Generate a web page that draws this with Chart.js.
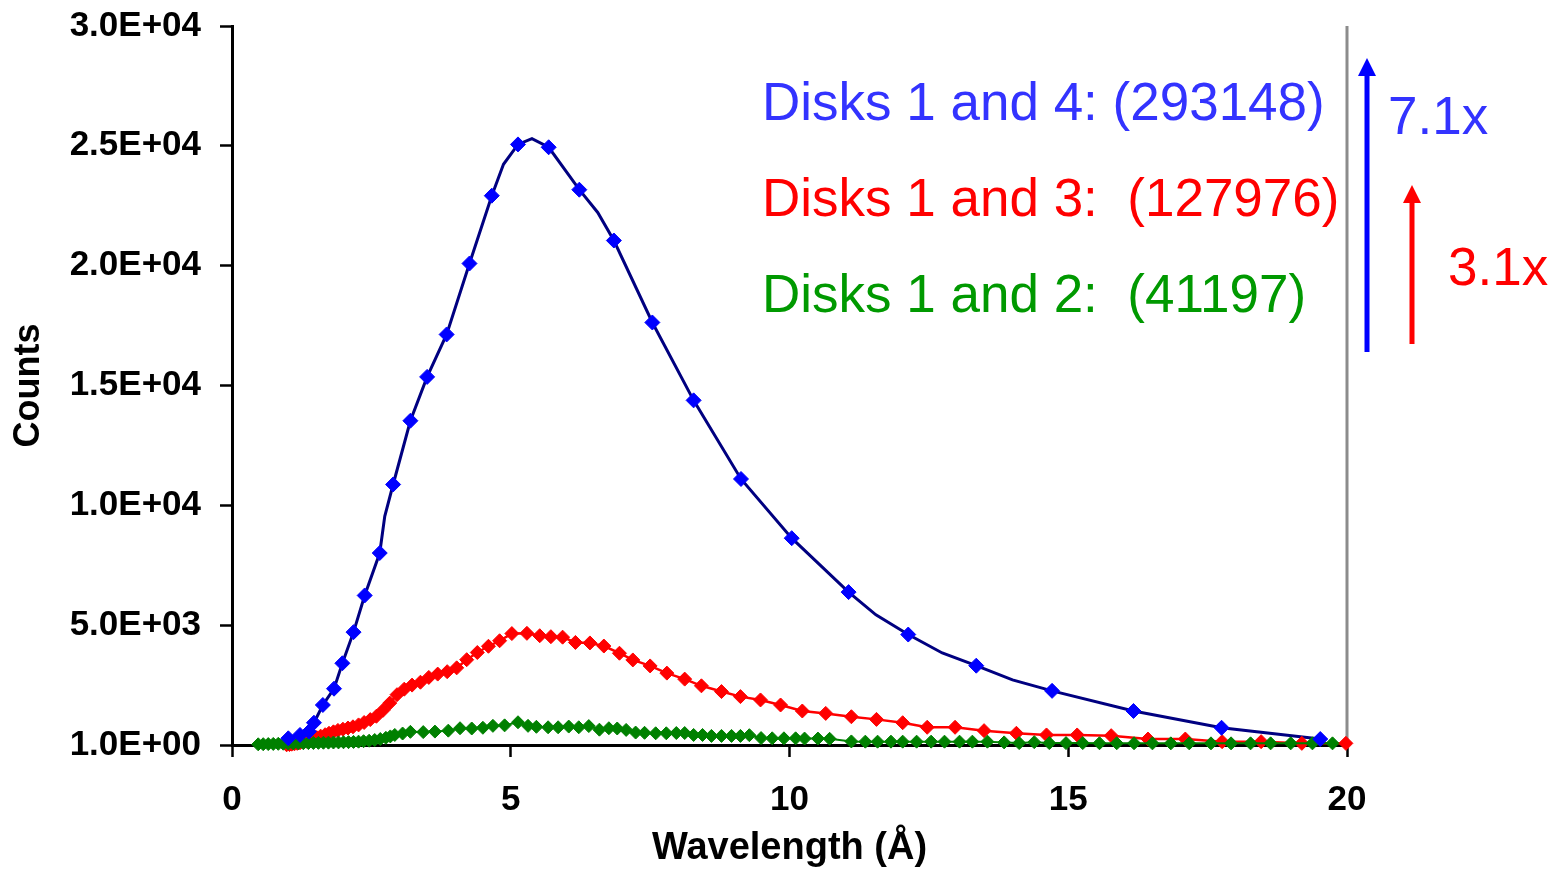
<!DOCTYPE html>
<html>
<head>
<meta charset="utf-8">
<title>Counts vs Wavelength</title>
<script src="https://cdn.jsdelivr.net/npm/chart.js@4.4.1/dist/chart.umd.min.js"></script>
<style>
  html, body { margin: 0; padding: 0; background: #fff; }
  #wrap { width: 1554px; height: 869px; position: relative; }
</style>
</head>
<body>
<div id="wrap"><canvas id="chart"></canvas></div>
<script>
// Disks 1 and 4 - diamond markers
const blueX = [1.01, 1.22, 1.38, 1.47, 1.63, 1.83, 1.98, 2.18, 2.38, 2.65, 2.89, 3.20, 3.50, 3.85, 4.26, 4.66,
  5.13, 5.68, 6.23, 6.85, 7.54, 8.28, 9.13, 10.04, 11.06, 12.13, 13.35, 14.71, 16.17, 17.75, 19.52];
const blueY = [280, 420, 560, 930, 1670, 2350, 3410, 4710, 6240, 8010, 10870, 13530, 15360, 17130, 20090, 22920,
  25060, 24940, 23170, 21050, 17630, 14380, 11100, 8630, 6380, 4610, 3310, 2260, 1420, 720, 250];
// extra points the navy curve passes through between the markers
const blueCurveX = [2.74, 4.87, 5.38, 6.56, 11.55, 12.74, 14.00];
const blueCurveY = [9540, 24230, 25300, 22220, 5430, 3840, 2720];

// Disks 1 and 3
const redX = [0.98, 1.03, 1.07, 1.12, 1.17, 1.22, 1.28, 1.34, 1.40, 1.46, 1.52, 1.59, 1.67, 1.74, 1.82, 1.90,
  1.99, 2.08, 2.17, 2.27, 2.37, 2.48, 2.59, 2.71, 2.83, 2.96, 3.09, 3.23, 3.38, 3.53, 3.69, 3.86, 4.03, 4.21,
  4.40, 4.60, 4.80, 5.02, 5.29, 5.52, 5.72, 5.93, 6.16, 6.42, 6.67, 6.95, 7.19, 7.50, 7.80, 8.12, 8.42, 8.78,
  9.12, 9.48, 9.84, 10.23, 10.65, 11.11, 11.56, 12.03, 12.47, 12.97, 13.49, 14.07, 14.61, 15.16, 15.77, 16.43,
  17.10, 17.76, 18.46, 19.19, 19.98];
const redY = [10, 20, 35, 50, 70, 95, 125, 160, 200, 250, 310, 370, 430, 490, 550, 610,
  660, 710, 760, 840, 940, 1060, 1200, 1450, 1750, 2100, 2330, 2500, 2620, 2820, 2960, 3060, 3220, 3560,
  3860, 4120, 4350, 4650, 4660, 4560, 4520, 4500, 4280, 4260, 4130, 3830, 3550, 3300, 3000, 2750, 2470, 2230,
  2020, 1880, 1670, 1420, 1320, 1180, 1070, 930, 740, 740, 600, 490, 420, 420, 390, 250,
  250, 140, 140, 70, 70];

// Disks 1 and 2
const greenX = [0.47, 0.56, 0.65, 0.74, 0.83, 0.92, 1.01, 1.10, 1.19, 1.28,
  1.37, 1.46, 1.55, 1.64, 1.73, 1.82, 1.91, 2.00, 2.09, 2.18,
  2.27, 2.36, 2.46, 2.56, 2.66, 2.76, 2.84, 2.92, 3.06, 3.20,
  3.43, 3.64, 3.88, 4.09, 4.30, 4.50, 4.68, 4.89, 5.13, 5.31,
  5.46, 5.67, 5.85, 6.04, 6.22, 6.40, 6.59, 6.76, 6.91, 7.07,
  7.24, 7.40, 7.60, 7.79, 7.97, 8.12, 8.28, 8.44, 8.60, 8.78,
  8.96, 9.12, 9.28, 9.49, 9.69, 9.90, 10.11, 10.27, 10.51, 10.72,
  11.11, 11.36, 11.58, 11.82, 12.03, 12.28, 12.54, 12.78, 13.05, 13.28,
  13.55, 13.85, 14.12, 14.39, 14.66, 14.96, 15.26, 15.56, 15.87, 16.18,
  16.51, 16.84, 17.17, 17.56, 17.92, 18.27, 18.63, 18.99, 19.38, 19.74];
const greenY = [30, 35, 40, 45, 50, 55, 60, 65, 70, 75,
  80, 85, 90, 95, 100, 105, 110, 115, 120, 130,
  140, 160, 180, 210, 250, 300, 360, 420, 480, 550,
  540, 560, 600, 700, 690, 720, 800, 820, 950, 800,
  760, 740, 740, 770, 740, 790, 640, 700, 690, 630,
  520, 510, 490, 490, 500, 500, 420, 420, 380, 380,
  380, 380, 410, 290, 280, 280, 280, 270, 270, 260,
  150, 140, 140, 140, 140, 140, 140, 140, 140, 140,
  140, 110, 80, 120, 80, 80, 80, 75, 75, 75,
  70, 70, 70, 70, 70, 70, 70, 70, 70, 70];

const xTickValues = [0, 5, 10, 15, 20];
const yTickValues = [1, 5000, 10000, 15000, 20000, 25000, 30000];

const seriesLabels = ['Disks 1 and 4: (293148)', 'Disks 1 and 3:  (127976)', 'Disks 1 and 2:  (41197)'];
const ratioLabels = ['7.1x', '3.1x'];

const FONT = "'Liberation Sans', Arial, sans-serif";

function toPoints(xs, ys) {
  const n = Math.min(xs.length, ys.length);
  const pts = [];
  for (let i = 0; i < n; i++) pts.push({ x: xs[i], y: ys[i] });
  return pts;
}

// 5000 -> "5.0E+03"
function sciLabel(v) {
  const parts = Number(v).toExponential(1).split('e');
  const exp = parts[1];
  return parts[0] + 'E' + exp[0] + exp.slice(1).padStart(2, '0');
}

const blueCurve = toPoints(blueX.concat(blueCurveX), blueY.concat(blueCurveY)).sort((a, b) => a.x - b.x);

// captions, ratio arrows and the grey right edge
const decorations = {
  id: 'decorations',
  beforeDatasetsDraw(chart) {
    const { ctx, chartArea } = chart;
    ctx.save();
    ctx.strokeStyle = '#8c8c8c';
    ctx.lineWidth = 3;
    ctx.beginPath();
    ctx.moveTo(chartArea.right, chartArea.top);
    ctx.lineTo(chartArea.right, chartArea.bottom);
    ctx.stroke();
    ctx.restore();
  },
  afterDraw(chart) {
    const { ctx, chartArea } = chart;
    const L = chartArea.left, T = chartArea.top;
    ctx.save();
    ctx.font = '53px ' + FONT;
    ctx.textAlign = 'left';
    ctx.textBaseline = 'alphabetic';
    const textColors = ['#3333ff', '#ff0000', '#009900'];
    seriesLabels.forEach((t, i) => {
      ctx.fillStyle = textColors[i];
      ctx.fillText(t, L + 530, T + 94 + i * 96);
    });
    ctx.fillStyle = '#3333ff';
    ctx.fillText(ratioLabels[0], L + 1156, T + 108);
    ctx.fillStyle = '#ff0000';
    ctx.fillText(ratioLabels[1], L + 1216, T + 259);

    function arrow(x, yBottom, yTip, color) {
      ctx.strokeStyle = color;
      ctx.fillStyle = color;
      ctx.lineWidth = 5;
      ctx.beginPath();
      ctx.moveTo(x, yBottom);
      ctx.lineTo(x, yTip + 16);
      ctx.stroke();
      ctx.beginPath();
      ctx.moveTo(x, yTip);
      ctx.lineTo(x - 9, yTip + 18);
      ctx.lineTo(x + 9, yTip + 18);
      ctx.closePath();
      ctx.fill();
    }
    arrow(L + 1135, T + 326, T + 32, '#0000ff');
    arrow(L + 1180, T + 318, T + 159, '#ff0000');
    ctx.restore();
  }
};

new Chart(document.getElementById('chart'), {
  type: 'line',
  data: {
    datasets: [
      {
        label: 'Disks 1 and 4 markers',
        data: toPoints(blueX, blueY),
        showLine: false,
        pointStyle: 'rectRot',
        pointRadius: 7.5,
        pointBackgroundColor: '#0000ff',
        pointBorderColor: '#0000ff',
        pointBorderWidth: 1,
        clip: false
      },
      {
        label: 'Disks 1 and 2',
        data: toPoints(greenX, greenY),
        borderColor: '#008000',
        borderWidth: 2,
        pointStyle: 'rectRot',
        pointRadius: 6.5,
        pointBackgroundColor: '#008000',
        pointBorderColor: '#008000',
        pointBorderWidth: 1,
        clip: false
      },
      {
        label: 'Disks 1 and 3',
        data: toPoints(redX, redY),
        borderColor: '#ff0000',
        borderWidth: 2.5,
        pointStyle: 'rectRot',
        pointRadius: 7,
        pointBackgroundColor: '#ff0000',
        pointBorderColor: '#ff0000',
        pointBorderWidth: 1,
        clip: false
      },
      {
        label: 'Disks 1 and 4',
        data: blueCurve,
        borderColor: '#000080',
        borderWidth: 3,
        pointRadius: 0,
        clip: false
      }
    ]
  },
  options: {
    responsive: true,
    maintainAspectRatio: false,
    animation: false,
    events: [],
    layout: { padding: { top: 26, right: 207, left: 0, bottom: 0 } },
    plugins: { legend: { display: false }, tooltip: { enabled: false } },
    scales: {
      x: {
        type: 'linear',
        min: 0,
        max: 20,
        afterBuildTicks: s => { s.ticks = xTickValues.map(v => ({ value: v })); },
        afterFit: s => { s.height = 124; s.paddingLeft = 0; s.paddingRight = 0; },
        border: { color: '#000', width: 3 },
        grid: { drawOnChartArea: false, drawTicks: true, tickLength: 12, tickColor: '#000', tickWidth: 2.5 },
        ticks: { color: '#000', font: { family: FONT, size: 35, weight: 'bold' }, padding: 22, maxRotation: 0 },
        title: {
          display: true,
          text: 'Wavelength (Å)',
          color: '#000',
          font: { family: FONT, size: 38, weight: 'bold', lineHeight: 1.1 },
          padding: { top: 0, bottom: 0 }
        }
      },
      y: {
        type: 'linear',
        min: 1,
        max: 30000,
        afterBuildTicks: s => { s.ticks = yTickValues.map(v => ({ value: v })); },
        // fixed axis width, and no extra room reserved for the end labels
        afterFit: s => { s.width = 232; s.paddingTop = 0; s.paddingBottom = 0; },
        border: { color: '#000', width: 3 },
        grid: { drawOnChartArea: false, drawTicks: true, tickLength: 12, tickColor: '#000', tickWidth: 2.5 },
        ticks: { color: '#000', font: { family: FONT, size: 35, weight: 'bold' }, padding: 19, callback: v => sciLabel(v) },
        title: {
          display: true,
          text: 'Counts',
          color: '#000',
          font: { family: FONT, size: 36, weight: 'bold' },
          padding: { top: 7, bottom: 0 }
        }
      }
    }
  },
  plugins: [decorations]
});
</script>
</body>
</html>
